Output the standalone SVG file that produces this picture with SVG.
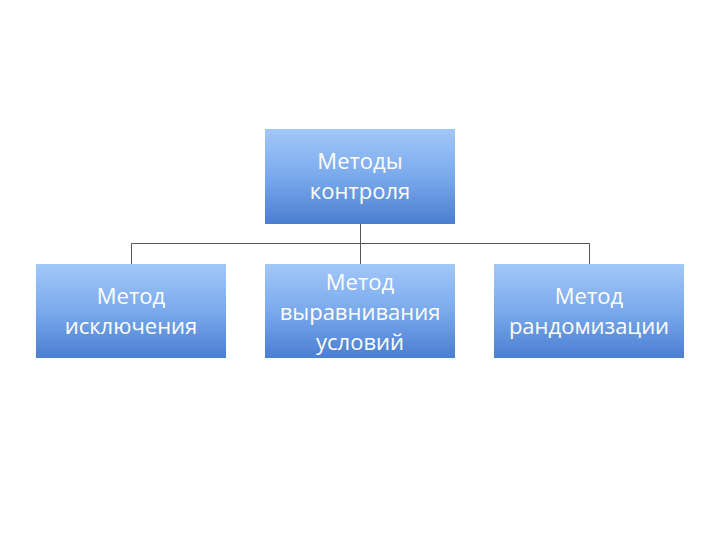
<svg xmlns="http://www.w3.org/2000/svg" width="720" height="540" viewBox="0 0 720 540">
<defs>
<linearGradient id="g" x1="0" y1="0" x2="0" y2="1">
<stop offset="0" stop-color="#a2c8fa"/>
<stop offset="0.5" stop-color="#7aa9ec"/>
<stop offset="1" stop-color="#4a7ed0"/>
</linearGradient>
</defs>
<style>
.b{fill:url(#g)}
.t{fill:#fff;font-family:"Open Sans","DejaVu Sans",sans-serif;font-size:22px;text-anchor:middle}
.c{stroke:#555;stroke-width:1;fill:none}
</style>
<rect width="720" height="540" fill="#fff"/>
<g id="connectors">
<path class="c" d="M360.5 224V243.5M131.5 264V243.5H589.5V264M360.5 243.5V264"/>
</g>
<g id="n0"><rect class="b" x="265" y="129" width="190" height="95"/>
<text class="t" x="360" y="169">Методы</text><text class="t" x="360" y="199">контроля</text></g>
<g id="n1"><rect class="b" x="36" y="264" width="190" height="94"/>
<text class="t" x="131" y="304">Метод</text><text class="t" x="131" y="334">исключения</text></g>
<g id="n2"><rect class="b" x="265" y="264" width="190" height="94"/>
<text class="t" x="360" y="290">Метод</text><text class="t" x="360" y="320">выравнивания</text><text class="t" x="360" y="350">условий</text></g>
<g id="n3"><rect class="b" x="494" y="264" width="190" height="94"/>
<text class="t" x="589" y="304">Метод</text><text class="t" x="589" y="334">рандомизации</text></g>
</svg>
